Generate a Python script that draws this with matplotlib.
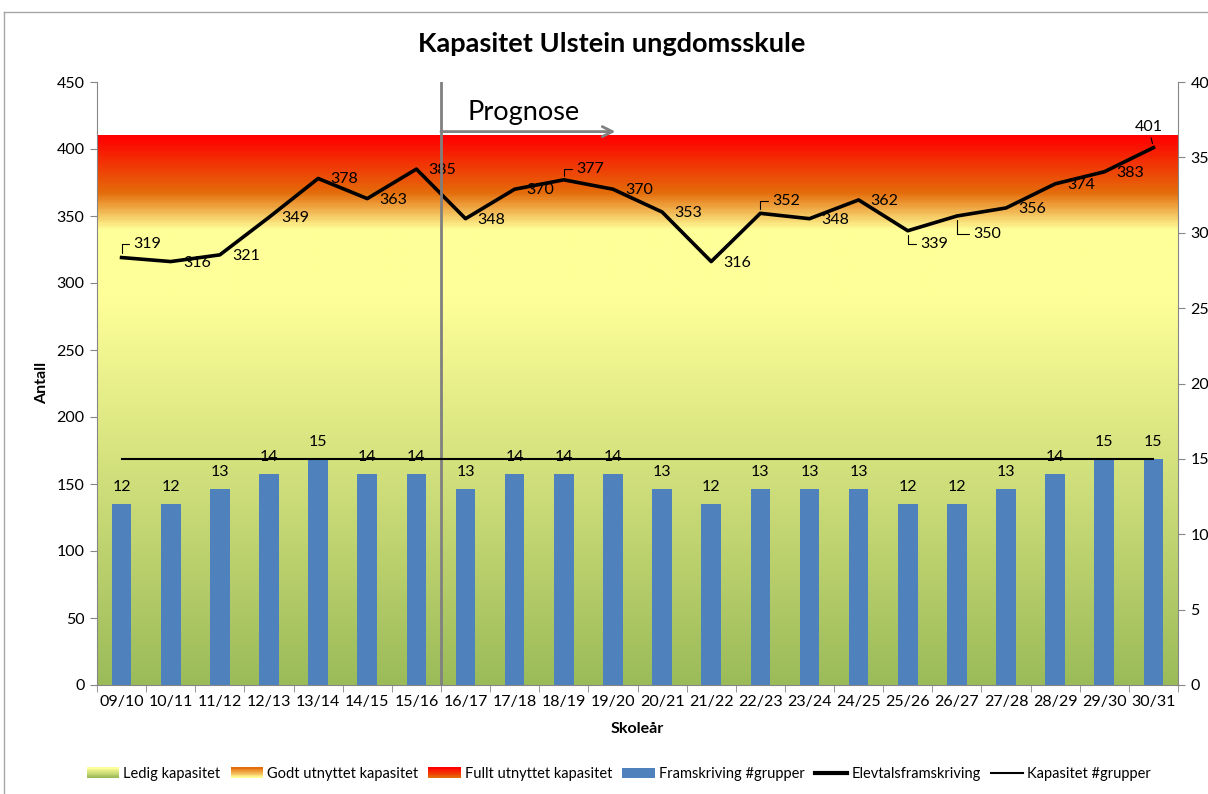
import numpy as np
import matplotlib.pyplot as plt
from matplotlib.colors import LinearSegmentedColormap, to_rgb
from matplotlib.legend_handler import HandlerBase
from matplotlib.patches import Rectangle
from matplotlib.lines import Line2D

plt.rcParams['font.family'] = ['Lato', 'DejaVu Sans']

years = ["09/10", "10/11", "11/12", "12/13", "13/14", "14/15", "15/16", "16/17",
         "17/18", "18/19", "19/20", "20/21", "21/22", "22/23", "23/24", "24/25",
         "25/26", "26/27", "27/28", "28/29", "29/30", "30/31"]
elever = [319, 316, 321, 349, 378, 363, 385, 348, 370, 377, 370, 353,
          316, 352, 348, 362, 339, 350, 356, 374, 383, 401]
grupper = [12, 12, 13, 14, 15, 14, 14, 13, 14, 14, 14, 13,
           12, 13, 13, 13, 12, 12, 13, 14, 15, 15]
kapasitet_grupper = [15] * len(years)

# capacity bands (left axis)
ledig_topp = 340
godt_topp = 368
fullt_topp = 410
prognose_start = 7  # 16/17 is first forecast year

green = '#9BBB59'
yellow = '#FFFF99'
orange = '#E46C0A'
red = '#FF0000'
blue = '#4F81BD'
grey = '#868686'

# label offsets (pixels) for the line labels, default (26, -1)
offsets = {0: (26, 14), 9: (26, 11), 13: (26, 12), 16: (26, -13), 17: (30, -18), 21: (-5, 21)}
leader = {0: 'angle', 9: 'angle', 13: 'angle', 16: 'angle', 17: 'angle', 21: 'arc3'}

FS = 11.5
W, H = 1208, 794
fig = plt.figure(figsize=(W / 100, H / 100), dpi=100)
ax = fig.add_axes([97 / W, 1 - 685 / H, (1178 - 97) / W, (685 - 82) / H])
x = np.arange(len(years))

# gradient background
stops = [(0, green), (290, yellow), (ledig_topp, yellow), (godt_topp, orange), (fullt_topp, red)]
cmap = LinearSegmentedColormap.from_list("kap", [(v / fullt_topp, c) for v, c in stops])
grad = np.linspace(0, fullt_topp, 600).reshape(-1, 1)
ax.imshow(grad, extent=(-0.5, len(years) - 0.5, 0, fullt_topp), origin='lower',
          aspect='auto', cmap=cmap, vmin=0, vmax=fullt_topp, zorder=0, interpolation='bilinear')

ax.plot(x, elever, color='black', lw=2.6, zorder=3)
for i, v in enumerate(elever):
    off = offsets.get(i, (26, -1))
    ap = None
    if i in leader:
        cs = "angle,angleA=0,angleB=90,rad=0" if leader[i] == 'angle' else "arc3"
        ap = dict(arrowstyle='-', color='black', lw=0.8, shrinkA=1, shrinkB=3, connectionstyle=cs)
    ax.annotate(str(v), (x[i], v), xytext=off, textcoords='offset pixels',
                ha='center', va='center', fontsize=FS, arrowprops=ap, zorder=4)

ax.set_xlim(-0.5, len(years) - 0.5)
ax.set_ylim(0, 450)
ax.set_yticks(np.arange(0, 451, 50))
ax.set_xticks(x)
ax.set_xticklabels(years)
ax.set_xticks(np.arange(-0.5, len(years), 1), minor=True)
ax.tick_params(axis='x', which='major', length=0, labelsize=FS, pad=7)
ax.tick_params(axis='x', which='minor', length=5, color=grey, direction='out')
ax.tick_params(axis='y', length=5, color=grey, labelsize=FS, pad=4)
for s in ['top', 'right']:
    ax.spines[s].set_visible(False)
for s in ['left', 'bottom']:
    ax.spines[s].set_color(grey)

# forecast marker
ax.axvline(prognose_start - 0.5, color='#808080', lw=2, zorder=6)
ax.annotate('', xy=(prognose_start + 3.05, 413), xytext=(prognose_start - 0.5, 413),
            arrowprops=dict(arrowstyle='->', color='#808080', lw=2, mutation_scale=18,
                            shrinkA=0, shrinkB=0), zorder=6)
ax.text(prognose_start + 1.19, 427, 'Prognose', ha='center', va='center', fontsize=19.5)

# right axis: groups
ax2 = ax.twinx()
ax2.bar(x, grupper, width=0.4, color=blue, zorder=2)
ax2.plot(x, kapasitet_grupper, color='black', lw=1.5, zorder=3)
for i, g in enumerate(grupper):
    ax2.annotate(str(g), (x[i], g), xytext=(0, 17), textcoords='offset pixels',
                 ha='center', va='center', fontsize=FS)
ax2.set_ylim(0, 40)
ax2.set_yticks(np.arange(0, 41, 5))
ax2.tick_params(axis='y', length=5, color=grey, labelsize=FS, pad=4)
for s in ['top', 'left', 'bottom']:
    ax2.spines[s].set_visible(False)
ax2.spines['right'].set_color(grey)

fig.text(612 / W, 1 - 44 / H, 'Kapasitet Ulstein ungdomsskule', ha='center', va='center',
         fontsize=19.5, fontweight='bold')
fig.text(42 / W, 1 - 383 / H, 'Antall', rotation=90, ha='center', va='center',
         fontsize=FS, fontweight='bold')
fig.text(637 / W, 1 - 729 / H, 'Skoleår', ha='center', va='center', fontsize=FS, fontweight='bold')

# chart frame
fig.add_artist(Line2D([4 / W, 1], [1 - 12 / H] * 2, transform=fig.transFigure, color='#A6A6A6', lw=1))
fig.add_artist(Line2D([4 / W] * 2, [0, 1 - 12 / H], transform=fig.transFigure, color='#A6A6A6', lw=1))


class GradientHandler(HandlerBase):
    def __init__(self, bottom, top):
        super().__init__()
        self.bottom = np.array(to_rgb(bottom))
        self.top = np.array(to_rgb(top))

    def create_artists(self, legend, orig_handle, xdescent, ydescent, width, height, fontsize, trans):
        n = 12
        arts = []
        for i in range(n):
            f = i / (n - 1)
            arts.append(Rectangle((-xdescent, -ydescent + i * height / n), width, height / n + 0.3,
                                  facecolor=self.bottom + (self.top - self.bottom) * f,
                                  edgecolor='none', transform=trans))
        return arts


h_ledig = Rectangle((0, 0), 1, 1)
h_godt = Rectangle((0, 0), 1, 1)
h_fullt = Rectangle((0, 0), 1, 1)
h_bar = Rectangle((0, 0), 1, 1, facecolor=blue)
h_elev = Line2D([], [], color='black', lw=3)
h_kap = Line2D([], [], color='black', lw=1.5)
fig.legend([h_ledig, h_godt, h_fullt, h_bar, h_elev, h_kap],
           ['Ledig kapasitet', 'Godt utnyttet kapasitet', 'Fullt utnyttet kapasitet',
            'Framskriving #grupper', 'Elevtalsframskriving', 'Kapasitet #grupper'],
           loc='center', bbox_to_anchor=(619 / W, 1 - 774 / H), ncol=6, frameon=False,
           fontsize=10.5, handlelength=2.2, handletextpad=0.3, columnspacing=0.7,
           handler_map={h_ledig: GradientHandler(green, yellow),
                        h_godt: GradientHandler(yellow, orange),
                        h_fullt: GradientHandler(orange, red)})

fig.savefig('out.png', dpi=100)
